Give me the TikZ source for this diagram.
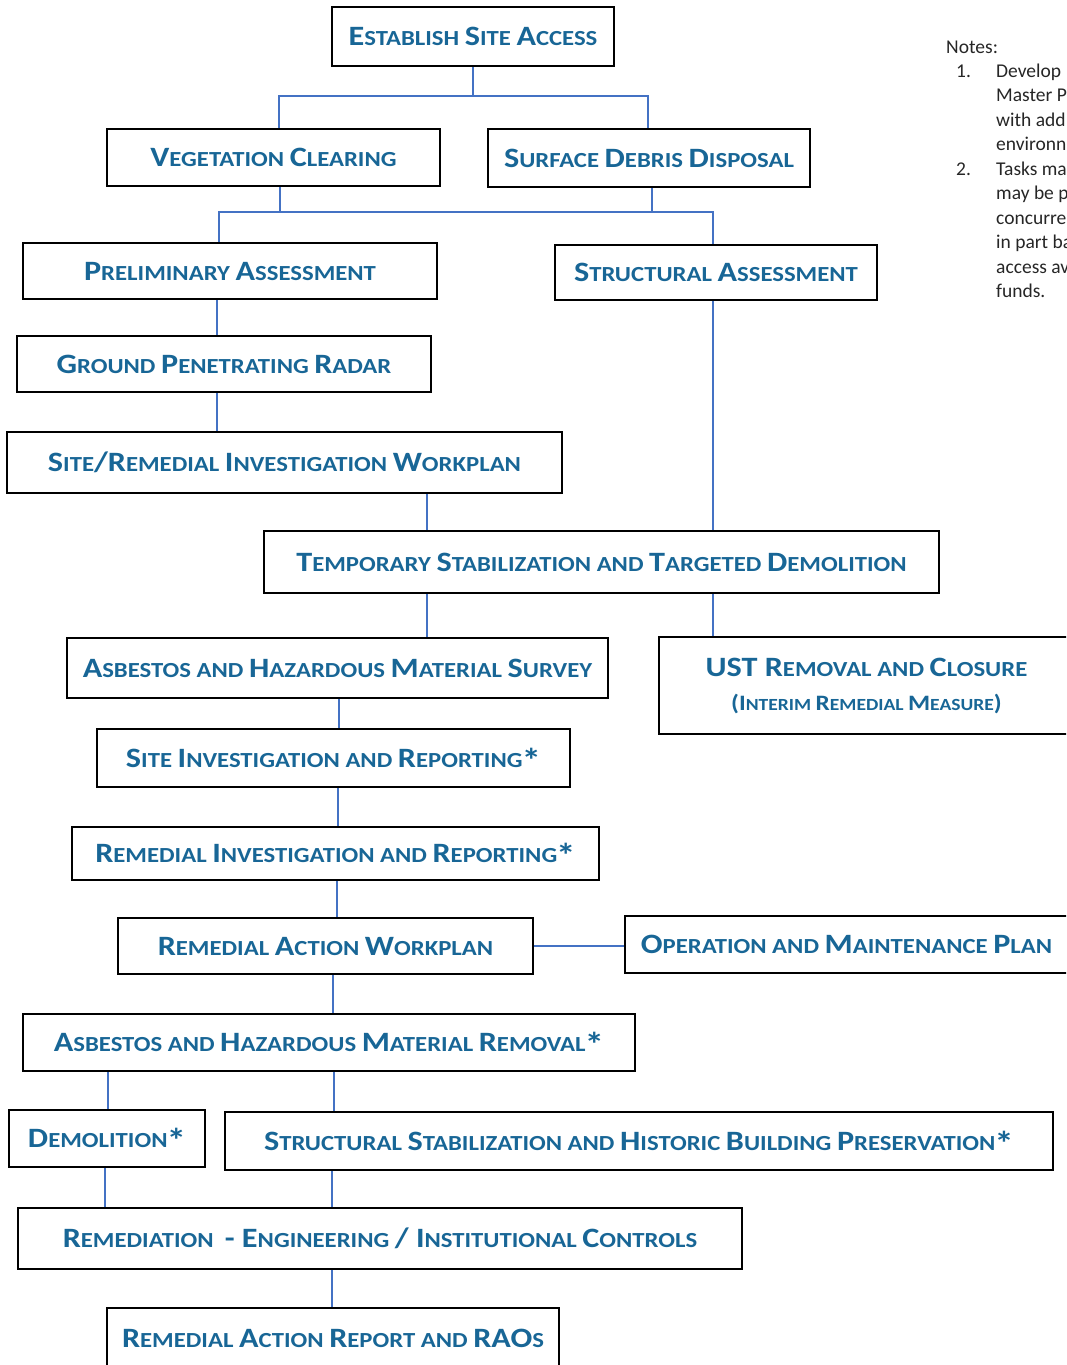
\documentclass[tikz,border=0pt]{standalone}
\usepackage{fontspec}
\setmainfont{Carlito}
\newfontfamily\stagefont{Carlito}[FakeStretch=1.15]
\usepackage{tikz}
\usetikzlibrary{positioning,calc}

\definecolor{stagetext}{RGB}{24,102,150}
\definecolor{linkblue}{RGB}{68,114,196}
\newcommand\Ini[2][28]{{\fontsize{#1}{#1}\selectfont #2}}
\newcommand\Ast{\kern-1pt\smash{\raisebox{-5pt}{\Ini[34]{*}}}}

\tikzset{
    stage/.style={draw, line width=2pt, inner sep=0pt, text=stagetext,
        font=\stagefont\bfseries\fontsize{21.5}{26}\selectfont},
    sz/.style 2 args={minimum width=#1pt, minimum height=#2pt},
    link/.style={draw=linkblue, line width=1.5pt},
    note/.style={inner sep=0pt, anchor=base west, text=black!85,
        font=\fontsize{19.5}{24.5}\selectfont}
}

\begin{document}
\begin{tikzpicture}[x=1pt, y=-1pt]
    \useasboundingbox (0,0) rectangle (1066,1365);
    \clip (0,0) rectangle (1066,1365);
    \node (est) [stage, sz={282}{59}] at (473,36.5) {\Ini{E}STABLISH \Ini{S}ITE \Ini{A}CCESS};
    \node (veg) [stage, sz={333}{57}] at (273.5,157.5) {\Ini{V}EGETATION \Ini{C}LEARING};
    \node (surf) [stage, sz={322}{58}] at (649,158) {\Ini{S}URFACE \Ini{D}EBRIS \Ini{D}ISPOSAL};
    \node (prelim) [stage, sz={414}{56}] at (230,271) {\Ini{P}RELIMINARY \Ini{A}SSESSMENT};
    \node (struct) [stage, sz={322}{55}] at (716,272.5) {\Ini{S}TRUCTURAL \Ini{A}SSESSMENT};
    \node (gpr) [stage, sz={414}{56}] at (224,364) {\Ini{G}ROUND \Ini{P}ENETRATING \Ini{R}ADAR};
    \node (sriw) [stage, sz={555}{61}] at (284.5,462.5) {\Ini{S}ITE\Ini{/R}EMEDIAL \Ini{I}NVESTIGATION \Ini{W}ORKPLAN};
    \node (temp) [stage, sz={675}{62}] at (601.5,562) {\Ini{T}EMPORARY \Ini{S}TABILIZATION AND \Ini{T}ARGETED \Ini{D}EMOLITION};
    \node (ahms) [stage, sz={541}{60}] at (337.5,668) {\Ini{A}SBESTOS AND \Ini{H}AZARDOUS \Ini{M}ATERIAL \Ini{S}URVEY};
    \node (ust) [stage, sz={415}{97}, align=center] at (866.5,685.5)
        {\Ini{UST R}EMOVAL AND \Ini{C}LOSURE\\[8pt]
         {\fontsize{17}{20}\selectfont\Ini[22]{(I}NTERIM \Ini[22]{R}EMEDIAL \Ini[22]{M}EASURE\Ini[22]{)}}};
    \node (sir) [stage, sz={473}{58}] at (333.5,758) {\Ini{S}ITE \Ini{I}NVESTIGATION AND \Ini{R}EPORTING\Ast};
    \node (rir) [stage, sz={527}{53}] at (335.5,853.5) {\Ini{R}EMEDIAL \Ini{I}NVESTIGATION AND \Ini{R}EPORTING\Ast};
    \node (raw) [stage, sz={415}{56}] at (325.5,946) {\Ini{R}EMEDIAL \Ini{A}CTION \Ini{W}ORKPLAN};
    \node (om) [stage, sz={443}{57}] at (846.5,944.5) {\Ini{O}PERATION AND \Ini{M}AINTENANCE \Ini{P}LAN};
    \node (ahmr) [stage, sz={612}{57}] at (329,1042.5) {\Ini{A}SBESTOS AND \Ini{H}AZARDOUS \Ini{M}ATERIAL \Ini{R}EMOVAL\Ast};
    \node (demo) [stage, sz={196}{57}] at (107,1138.5) {\Ini{D}EMOLITION\Ast};
    \node (sshbp) [stage, sz={828}{58}] at (639,1141) {\Ini{S}TRUCTURAL \Ini{S}TABILIZATION AND \Ini{H}ISTORIC \Ini{B}UILDING \Ini{P}RESERVATION\Ast};
    \node (remed) [stage, sz={724}{61}] at (380,1238.5) {\Ini{R}EMEDIATION\ \ \Ini{- E}NGINEERING \Ini{/ I}NSTITUTIONAL \Ini{C}ONTROLS};
    \node (rar) [stage, sz={452}{60}] at (333,1338) {\Ini{R}EMEDIAL \Ini{A}CTION \Ini{R}EPORT AND \Ini{RAO}S};
    % notes at the right edge
    \node (notes) [note] at (946,53) {Notes:};
    \node (n1) [note] at (956,77) {1.};
    \node (n2) [note] at (956,175) {2.};
    \foreach \t [count=\i from 0] in {Develop, Master P, with add, environn}
        \node (na\i) [note] at (996,77+24.5*\i) {\t};
    \foreach \t [count=\i from 0] in {Tasks ma, may be p, concurre, in part ba, access av, funds.}
        \node (nb\i) [note] at (996,175+24.5*\i) {\t};
    % tree branches
    \draw[link] ([xshift=5.5pt]veg.north) -- ++(0,-32) coordinate (j1) -| ([xshift=-1pt]surf.north);
    \draw[link] ([xshift=-11pt]prelim.north) -- ++(0,-30) coordinate (j2) -| ([xshift=-3pt]struct.north);
    \draw[link]
        (est) -- (est |- j1)
        ([xshift=6.5pt]veg.south) -- ([xshift=6.5pt]veg.south |- j2)
        ([xshift=3pt]surf.south) -- ([xshift=3pt]surf.south |- j2)
        (prelim.south -| 217,0) -- (gpr.north -| 217,0)
        (gpr.south -| 217,0) -- (sriw.north -| 217,0)
        (sriw.south -| 427,0) -- (temp.north -| 427,0)
        (struct.south -| 713,0) -- (temp.north -| 713,0)
        (temp.south -| 427,0) -- (ahms.north -| 427,0)
        (temp.south -| 713,0) -- (ust.north -| 713,0)
        (ahms.south -| 339,0) -- (sir.north -| 339,0)
        (sir.south -| 338,0) -- (rir.north -| 338,0)
        (rir.south -| 337,0) -- (raw.north -| 337,0)
        (raw.east) -- (raw.east -| om.west)
        (raw.south -| 333,0) -- (ahmr.north -| 333,0)
        (ahmr.south -| 108,0) -- (demo.north -| 108,0)
        (ahmr.south -| 334,0) -- (sshbp.north -| 334,0)
        (demo.south -| 105,0) -- (remed.north -| 105,0)
        (sshbp.south -| 332,0) -- (remed.north -| 332,0)
        (remed.south -| 332,0) -- (rar.north -| 332,0);
\end{tikzpicture}
\end{document}
